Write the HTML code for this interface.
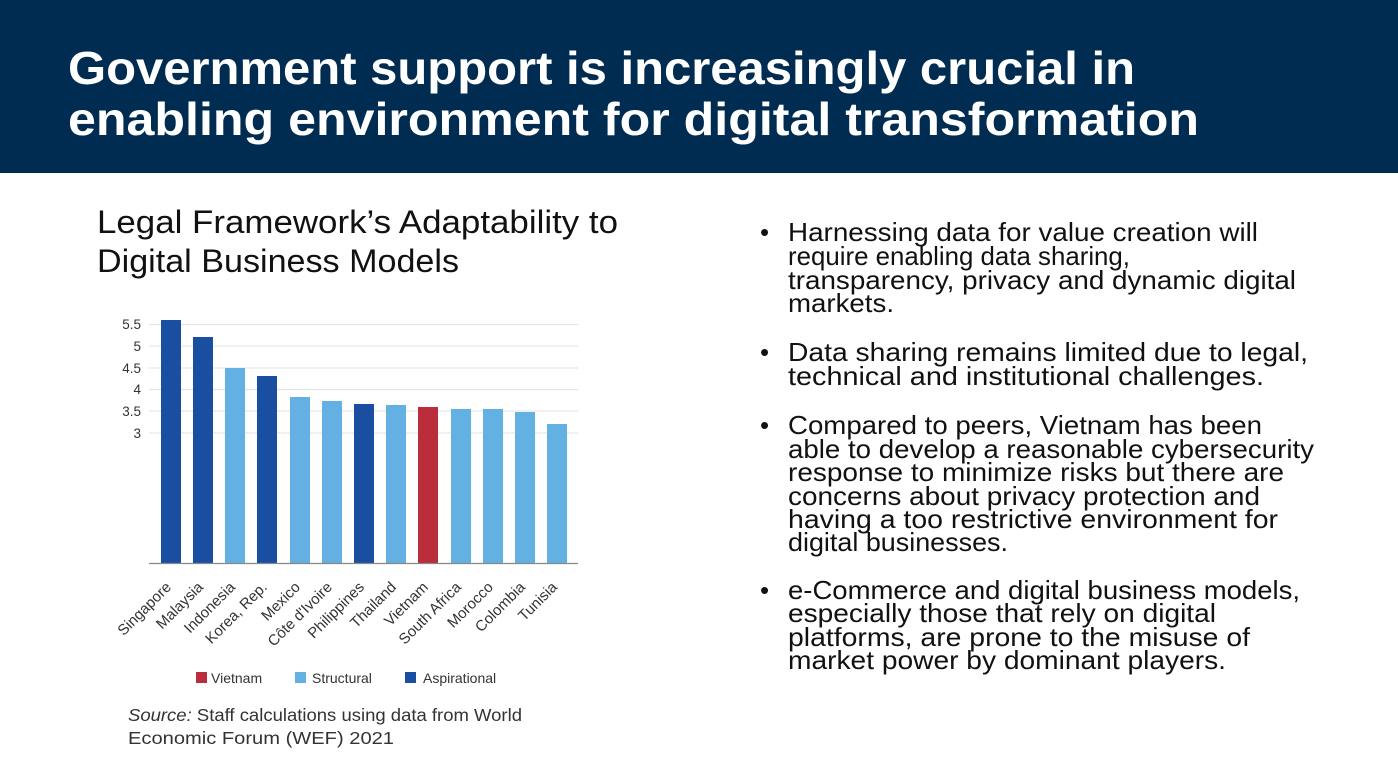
<!DOCTYPE html>
<html><head><meta charset="utf-8"><style>
html,body{margin:0;padding:0;background:#fff;}
svg{display:block;font-family:"Liberation Sans",Arial,sans-serif;}
</style></head><body>
<svg width="1398" height="777" viewBox="0 0 1398 777" xmlns="http://www.w3.org/2000/svg">
<rect x="0" y="0" width="1398" height="173" fill="#002c51"/>
<text x="68" y="84" fill="#fff" font-weight="bold" font-size="46" textLength="1067" lengthAdjust="spacingAndGlyphs">Government support is increasingly crucial in</text>
<text x="68" y="135" fill="#fff" font-weight="bold" font-size="46" textLength="1131" lengthAdjust="spacingAndGlyphs">enabling environment for digital transformation</text>

<text x="97" y="233" fill="#111" font-size="32" textLength="521" lengthAdjust="spacingAndGlyphs">Legal Framework’s Adaptability to</text>
<text x="97" y="272" fill="#111" font-size="32" textLength="362" lengthAdjust="spacingAndGlyphs">Digital Business Models</text>

<g stroke="#e6e6e6" stroke-width="1.2">
<line x1="149" y1="324.5" x2="578" y2="324.5"/><line x1="149" y1="346" x2="578" y2="346"/>
<line x1="149" y1="368" x2="578" y2="368"/><line x1="149" y1="389.5" x2="578" y2="389.5"/>
<line x1="149" y1="411" x2="578" y2="411"/><line x1="149" y1="433" x2="578" y2="433"/>
</g>
<g fill="#333" font-size="13.5" text-anchor="end">
<text x="141" y="329">5.5</text><text x="141" y="351">5</text><text x="141" y="373">4.5</text>
<text x="141" y="394">4</text><text x="141" y="416">3.5</text><text x="141" y="438">3</text>
</g>
<g>
<rect x="161" y="320" width="20" height="243" fill="#1a4ea0"/>
<rect x="193" y="337" width="20" height="226" fill="#1a4ea0"/>
<rect x="225" y="368" width="20" height="195" fill="#63b1e2"/>
<rect x="257" y="376" width="20" height="187" fill="#1a4ea0"/>
<rect x="290" y="397" width="20" height="166" fill="#63b1e2"/>
<rect x="322" y="401" width="20" height="162" fill="#63b1e2"/>
<rect x="354" y="404" width="20" height="159" fill="#1a4ea0"/>
<rect x="386" y="405" width="20" height="158" fill="#63b1e2"/>
<rect x="418" y="407" width="20" height="156" fill="#bb2d3a"/>
<rect x="451" y="409" width="20" height="154" fill="#63b1e2"/>
<rect x="483" y="409" width="20" height="154" fill="#63b1e2"/>
<rect x="515" y="412" width="20" height="151" fill="#63b1e2"/>
<rect x="547" y="424" width="20" height="139" fill="#63b1e2"/>
</g>
<line x1="149" y1="563.5" x2="578" y2="563.5" stroke="#888" stroke-width="1.2"/>
<g fill="#333" font-size="15" text-anchor="end">
<text transform="translate(172,588) rotate(-45)">Singapore</text>
<text transform="translate(204,588) rotate(-45)">Malaysia</text>
<text transform="translate(236,588) rotate(-45)">Indonesia</text>
<text transform="translate(268,588) rotate(-45)">Korea, Rep.</text>
<text transform="translate(301,588) rotate(-45)">Mexico</text>
<text transform="translate(333,588) rotate(-45)">Côte d'Ivoire</text>
<text transform="translate(365,588) rotate(-45)">Philippines</text>
<text transform="translate(397,588) rotate(-45)">Thailand</text>
<text transform="translate(429,588) rotate(-45)">Vietnam</text>
<text transform="translate(462,588) rotate(-45)">South Africa</text>
<text transform="translate(494,588) rotate(-45)">Morocco</text>
<text transform="translate(526,588) rotate(-45)">Colombia</text>
<text transform="translate(558,588) rotate(-45)">Tunisia</text>
</g>
<g font-size="14" fill="#333">
<rect x="196" y="672" width="11" height="11" fill="#bb2d3a"/><text x="211" y="683">Vietnam</text>
<rect x="295" y="672" width="11" height="11" fill="#63b1e2"/><text x="312" y="683">Structural</text>
<rect x="405" y="672" width="11" height="11" fill="#1a4ea0"/><text x="423" y="683">Aspirational</text>
</g>
<g font-size="17.5" fill="#333">
<text x="128" y="721" textLength="394" lengthAdjust="spacingAndGlyphs"><tspan font-style="italic">Source:</tspan> Staff calculations using data from World</text>
<text x="128" y="744" textLength="266" lengthAdjust="spacingAndGlyphs">Economic Forum (WEF) 2021</text>
</g>

<g font-size="26" fill="#111">
<text x="760" y="241">•</text>
<text x="788" y="241" textLength="470" lengthAdjust="spacingAndGlyphs">Harnessing data for value creation will</text>
<text x="788" y="265" textLength="342" lengthAdjust="spacingAndGlyphs">require enabling data sharing,</text>
<text x="788" y="289" textLength="508" lengthAdjust="spacingAndGlyphs">transparency, privacy and dynamic digital</text>
<text x="788" y="312" textLength="106" lengthAdjust="spacingAndGlyphs">markets.</text>
<text x="760" y="361">•</text>
<text x="788" y="361" textLength="520" lengthAdjust="spacingAndGlyphs">Data sharing remains limited due to legal,</text>
<text x="788" y="385" textLength="476" lengthAdjust="spacingAndGlyphs">technical and institutional challenges.</text>
<text x="760" y="434">•</text>
<text x="788" y="434" textLength="474" lengthAdjust="spacingAndGlyphs">Compared to peers, Vietnam has been</text>
<text x="788" y="458" textLength="526" lengthAdjust="spacingAndGlyphs">able to develop a reasonable cybersecurity</text>
<text x="788" y="481" textLength="496" lengthAdjust="spacingAndGlyphs">response to minimize risks but there are</text>
<text x="788" y="505" textLength="472" lengthAdjust="spacingAndGlyphs">concerns about privacy protection and</text>
<text x="788" y="528" textLength="490" lengthAdjust="spacingAndGlyphs">having a too restrictive environment for</text>
<text x="788" y="551" textLength="220" lengthAdjust="spacingAndGlyphs">digital businesses.</text>
<text x="760" y="599">•</text>
<text x="788" y="599" textLength="512" lengthAdjust="spacingAndGlyphs">e-Commerce and digital business models,</text>
<text x="788" y="622" textLength="428" lengthAdjust="spacingAndGlyphs">especially those that rely on digital</text>
<text x="788" y="646" textLength="462" lengthAdjust="spacingAndGlyphs">platforms, are prone to the misuse of</text>
<text x="788" y="669" textLength="438" lengthAdjust="spacingAndGlyphs">market power by dominant players.</text>
</g>
</svg>
</body></html>
